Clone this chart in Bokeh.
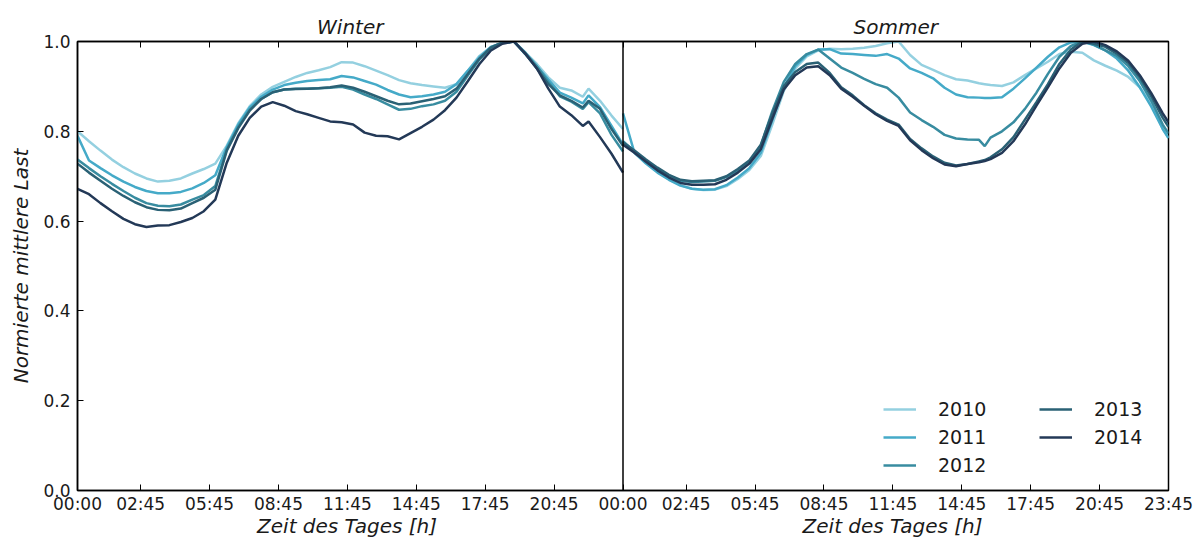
from bokeh.plotting import figure
from bokeh.models import (Range1d, LinearAxis, FixedTicker, PrintfTickFormatter,
                          Span, Legend, LegendItem)
from bokeh.embed import file_html
from bokeh.resources import INLINE

YEARS = ["2010", "2011", "2012", "2013", "2014"]
COLORS = ["#94d0e0", "#45aac8", "#388ca0", "#2a6175", "#233957"]

# quarter-hour index (0 = 00:00, 95 = 23:45)
X_WINTER = [0, 2, 4, 6, 8, 10, 12, 14, 16, 18, 20, 22, 24, 26, 28, 30, 32, 34, 36, 38,
            40, 42, 44, 46, 48, 50, 52, 54, 56, 58, 60, 62, 64, 66, 68, 70, 72, 74, 76, 78,
            80, 82, 84, 86, 88, 89, 91, 93, 95]

W2010 = [0.800, 0.778, 0.757, 0.737, 0.720, 0.706, 0.695, 0.688, 0.690, 0.695,
         0.706, 0.716, 0.728, 0.768, 0.818, 0.856, 0.882, 0.899, 0.910, 0.921,
         0.930, 0.936, 0.943, 0.954, 0.953, 0.945, 0.935, 0.925, 0.914, 0.907,
         0.903, 0.900, 0.897, 0.905, 0.935, 0.968, 0.988, 0.997, 1.000, 0.975,
         0.950, 0.920, 0.897, 0.891, 0.877, 0.895, 0.868, 0.835, 0.805]
W2011 = [0.790, 0.735, 0.718, 0.702, 0.688, 0.676, 0.667, 0.662, 0.662, 0.665,
         0.673, 0.685, 0.702, 0.765, 0.815, 0.853, 0.877, 0.893, 0.903, 0.908,
         0.912, 0.914, 0.916, 0.923, 0.920, 0.912, 0.904, 0.892, 0.882, 0.876,
         0.878, 0.882, 0.888, 0.905, 0.935, 0.965, 0.988, 0.997, 1.000, 0.972,
         0.945, 0.915, 0.886, 0.875, 0.862, 0.880, 0.854, 0.812, 0.770]
W2012 = [0.737, 0.718, 0.700, 0.683, 0.667, 0.652, 0.640, 0.634, 0.633, 0.637,
         0.648, 0.658, 0.678, 0.760, 0.810, 0.848, 0.872, 0.887, 0.893, 0.895,
         0.895, 0.896, 0.897, 0.899, 0.893, 0.882, 0.872, 0.860, 0.848, 0.850,
         0.856, 0.860, 0.868, 0.888, 0.925, 0.960, 0.985, 0.997, 1.000, 0.975,
         0.945, 0.910, 0.878, 0.866, 0.850, 0.865, 0.840, 0.792, 0.755]
W2013 = [0.728, 0.708, 0.690, 0.672, 0.656, 0.642, 0.631, 0.625, 0.624, 0.628,
         0.640, 0.652, 0.670, 0.757, 0.807, 0.846, 0.872, 0.887, 0.893, 0.894,
         0.895, 0.896, 0.898, 0.902, 0.897, 0.888, 0.878, 0.868, 0.860, 0.862,
         0.867, 0.872, 0.878, 0.895, 0.928, 0.962, 0.987, 0.998, 1.000, 0.972,
         0.940, 0.905, 0.880, 0.868, 0.853, 0.868, 0.850, 0.805, 0.768]
W2014 = [0.672, 0.660, 0.640, 0.622, 0.605, 0.593, 0.587, 0.590, 0.591, 0.598,
         0.607, 0.622, 0.648, 0.730, 0.790, 0.830, 0.855, 0.865, 0.857, 0.845,
         0.838, 0.830, 0.822, 0.820, 0.815, 0.797, 0.790, 0.789, 0.782, 0.796,
         0.810, 0.826, 0.847, 0.875, 0.912, 0.950, 0.980, 0.995, 1.000, 0.973,
         0.940, 0.895, 0.855, 0.836, 0.812, 0.822, 0.787, 0.750, 0.708]

X_SUMMER = [0, 2, 4, 6, 8, 10, 12, 14, 16, 18, 20, 22, 24, 26, 28, 30, 32, 34, 36, 38,
            40, 42, 44, 46, 48, 50, 52, 54, 56, 58, 60, 62, 63, 64, 66, 68, 70, 72, 74, 76,
            78, 80, 82, 84, 86, 88, 90, 92, 94, 95]

S2010 = [0.775, 0.752, 0.730, 0.710, 0.693, 0.680, 0.672, 0.669, 0.670, 0.678,
         0.694, 0.714, 0.745, 0.815, 0.890, 0.940, 0.967, 0.980, 0.984, 0.983,
         0.984, 0.986, 0.990, 0.996, 1.000, 0.970, 0.948, 0.937, 0.925, 0.916,
         0.913, 0.907, 0.905, 0.903, 0.901, 0.909, 0.925, 0.940, 0.955, 0.972,
         0.977, 0.975, 0.958, 0.946, 0.935, 0.921, 0.898, 0.862, 0.805, 0.785]
S2011 = [0.840, 0.752, 0.728, 0.708, 0.692, 0.679, 0.672, 0.670, 0.671, 0.680,
         0.697, 0.718, 0.752, 0.825, 0.898, 0.945, 0.970, 0.982, 0.983, 0.973,
         0.972, 0.970, 0.968, 0.972, 0.962, 0.940, 0.930, 0.918, 0.897, 0.882,
         0.876, 0.875, 0.874, 0.874, 0.876, 0.895, 0.918, 0.942, 0.966, 0.987,
         0.998, 1.000, 0.992, 0.980, 0.962, 0.935, 0.898, 0.855, 0.805, 0.785]
S2012 = [0.778, 0.755, 0.735, 0.716, 0.701, 0.690, 0.687, 0.688, 0.690, 0.698,
         0.713, 0.731, 0.768, 0.845, 0.910, 0.950, 0.972, 0.982, 0.962, 0.942,
         0.930, 0.917, 0.905, 0.897, 0.875, 0.842, 0.825, 0.810, 0.792, 0.784,
         0.782, 0.781, 0.767, 0.786, 0.800, 0.820, 0.850, 0.886, 0.928, 0.966,
         0.990, 1.000, 0.993, 0.980, 0.968, 0.945, 0.912, 0.868, 0.815, 0.795]
S2013 = [0.775, 0.757, 0.737, 0.719, 0.703, 0.692, 0.689, 0.690, 0.691, 0.700,
         0.716, 0.735, 0.770, 0.840, 0.900, 0.932, 0.950, 0.953, 0.930, 0.898,
         0.880, 0.858, 0.840, 0.826, 0.815, 0.783, 0.762, 0.744, 0.730, 0.724,
         0.727, 0.733, 0.736, 0.742, 0.760, 0.787, 0.826, 0.865, 0.905, 0.950,
         0.982, 1.000, 0.995, 0.988, 0.973, 0.952, 0.920, 0.878, 0.830, 0.810]
S2014 = [0.770, 0.752, 0.732, 0.713, 0.697, 0.685, 0.681, 0.681, 0.682, 0.692,
         0.708, 0.728, 0.760, 0.828, 0.893, 0.925, 0.942, 0.945, 0.925, 0.895,
         0.877, 0.857, 0.838, 0.823, 0.812, 0.780, 0.758, 0.740, 0.726, 0.722,
         0.727, 0.731, 0.734, 0.738, 0.752, 0.778, 0.815, 0.857, 0.898, 0.940,
         0.975, 0.995, 1.000, 0.992, 0.978, 0.957, 0.925, 0.885, 0.840, 0.820]

WINTER = [W2010, W2011, W2012, W2013, W2014]
SUMMER = [S2010, S2011, S2012, S2013, S2014]

PANEL_TITLES = ["Winter", "Sommer"]
X_TITLE = "Zeit des Tages  [h]"
Y_TITLE = "Normierte mittlere Last"
WINTER_TICKS = [0, 11, 23, 35, 47, 59, 71, 83]
WINTER_TICK_LABELS = ["00:00", "02:45", "05:45", "08:45", "11:45", "14:45", "17:45", "20:45"]
SUMMER_TICKS = [0, 11, 23, 35, 47, 59, 71, 83, 95]
SUMMER_TICK_LABELS = ["00:00", "02:45", "05:45", "08:45", "11:45", "14:45", "17:45", "20:45", "23:45"]
Y_TICKS = [0.0, 0.2, 0.4, 0.6, 0.8, 1.0]

FONT = "DejaVu Sans"
TXT = "#1a1a1a"
PANEL = 95  # quarter-hour span of one panel

p = figure(width=1194, height=540, x_range=Range1d(0, 2 * PANEL), y_range=Range1d(0, 1),
           output_backend="svg", toolbar_location=None,
           min_border_left=77, min_border_right=26, min_border_top=41, min_border_bottom=49)
p.extra_x_ranges = {"summer": Range1d(-PANEL, PANEL)}
p.xaxis.visible = False
p.xgrid.visible = False
p.ygrid.visible = False
p.outline_line_color = "black"
p.outline_line_width = 1.5

tick_pos = WINTER_TICKS + [PANEL + t for t in SUMMER_TICKS]
tick_lab = WINTER_TICK_LABELS + SUMMER_TICK_LABELS
centers = [PANEL / 2, PANEL + PANEL / 2]


def base_style(ax):
    ax.minor_tick_line_color = None
    ax.axis_line_color = "black"
    ax.axis_line_width = 1.5
    ax.major_tick_line_color = "black"
    ax.major_tick_line_width = 1
    ax.major_tick_in = 6
    ax.major_tick_out = 0
    ax.major_label_text_font = FONT
    ax.major_label_text_font_size = "17px"
    ax.major_label_text_color = TXT


# bottom: time tick labels
xb = LinearAxis(ticker=FixedTicker(ticks=tick_pos),
                major_label_overrides={t: l for t, l in zip(tick_pos, tick_lab)})
base_style(xb)
xb.major_label_standoff = 3
p.add_layout(xb, "below")

# bottom: panel axis titles
xl = LinearAxis(ticker=FixedTicker(ticks=centers),
                major_label_overrides={c: X_TITLE for c in centers})
xl.axis_line_color = None
xl.major_tick_line_color = None
xl.minor_tick_line_color = None
xl.major_label_standoff = -9
xl.major_label_text_font = FONT
xl.major_label_text_font_size = "20px"
xl.major_label_text_font_style = "italic"
xl.major_label_text_color = TXT
p.add_layout(xl, "below")

# top: tick marks (minor) and panel titles (major labels)
xt = LinearAxis(ticker=FixedTicker(ticks=centers, minor_ticks=tick_pos),
                major_label_overrides={c: t for c, t in zip(centers, PANEL_TITLES)})
xt.axis_line_color = "black"
xt.axis_line_width = 1.5
xt.major_tick_line_color = None
xt.minor_tick_line_color = "black"
xt.minor_tick_line_width = 1
xt.minor_tick_in = 6
xt.minor_tick_out = 0
xt.major_label_standoff = -3
xt.major_label_text_font = FONT
xt.major_label_text_font_size = "20px"
xt.major_label_text_font_style = "italic"
xt.major_label_text_color = TXT
p.add_layout(xt, "above")

ya = p.yaxis[0]
ya.ticker = FixedTicker(ticks=Y_TICKS)
ya.formatter = PrintfTickFormatter(format="%.1f")
base_style(ya)
ya.major_label_standoff = 7
ya.axis_label = Y_TITLE
ya.axis_label_text_font = FONT
ya.axis_label_text_font_size = "20px"
ya.axis_label_text_font_style = "italic"
ya.axis_label_text_color = TXT
ya.axis_label_standoff = 7

for year, ys, col in zip(YEARS, WINTER, COLORS):
    p.line(X_WINTER, ys, line_color=col, line_width=2.5)

items = []
for year, ys, col in zip(YEARS, SUMMER, COLORS):
    r = p.line(X_SUMMER, ys, line_color=col, line_width=2.5, x_range_name="summer")
    items.append(LegendItem(label=year, renderers=[r]))

p.add_layout(Span(location=0, dimension="height", x_range_name="summer",
                  line_color="black", line_width=1.5))

legend = Legend(items=items, location=(806, 14), nrows=3,
                border_line_alpha=0, background_fill_alpha=0,
                padding=0, margin=0, spacing=6,
                glyph_width=33, glyph_height=20, label_height=20, label_width=95,
                label_standoff=22, label_text_font=FONT, label_text_font_size="19px",
                label_text_color=TXT)
p.add_layout(legend)

open("out.html", "w").write(file_html(p, INLINE))
